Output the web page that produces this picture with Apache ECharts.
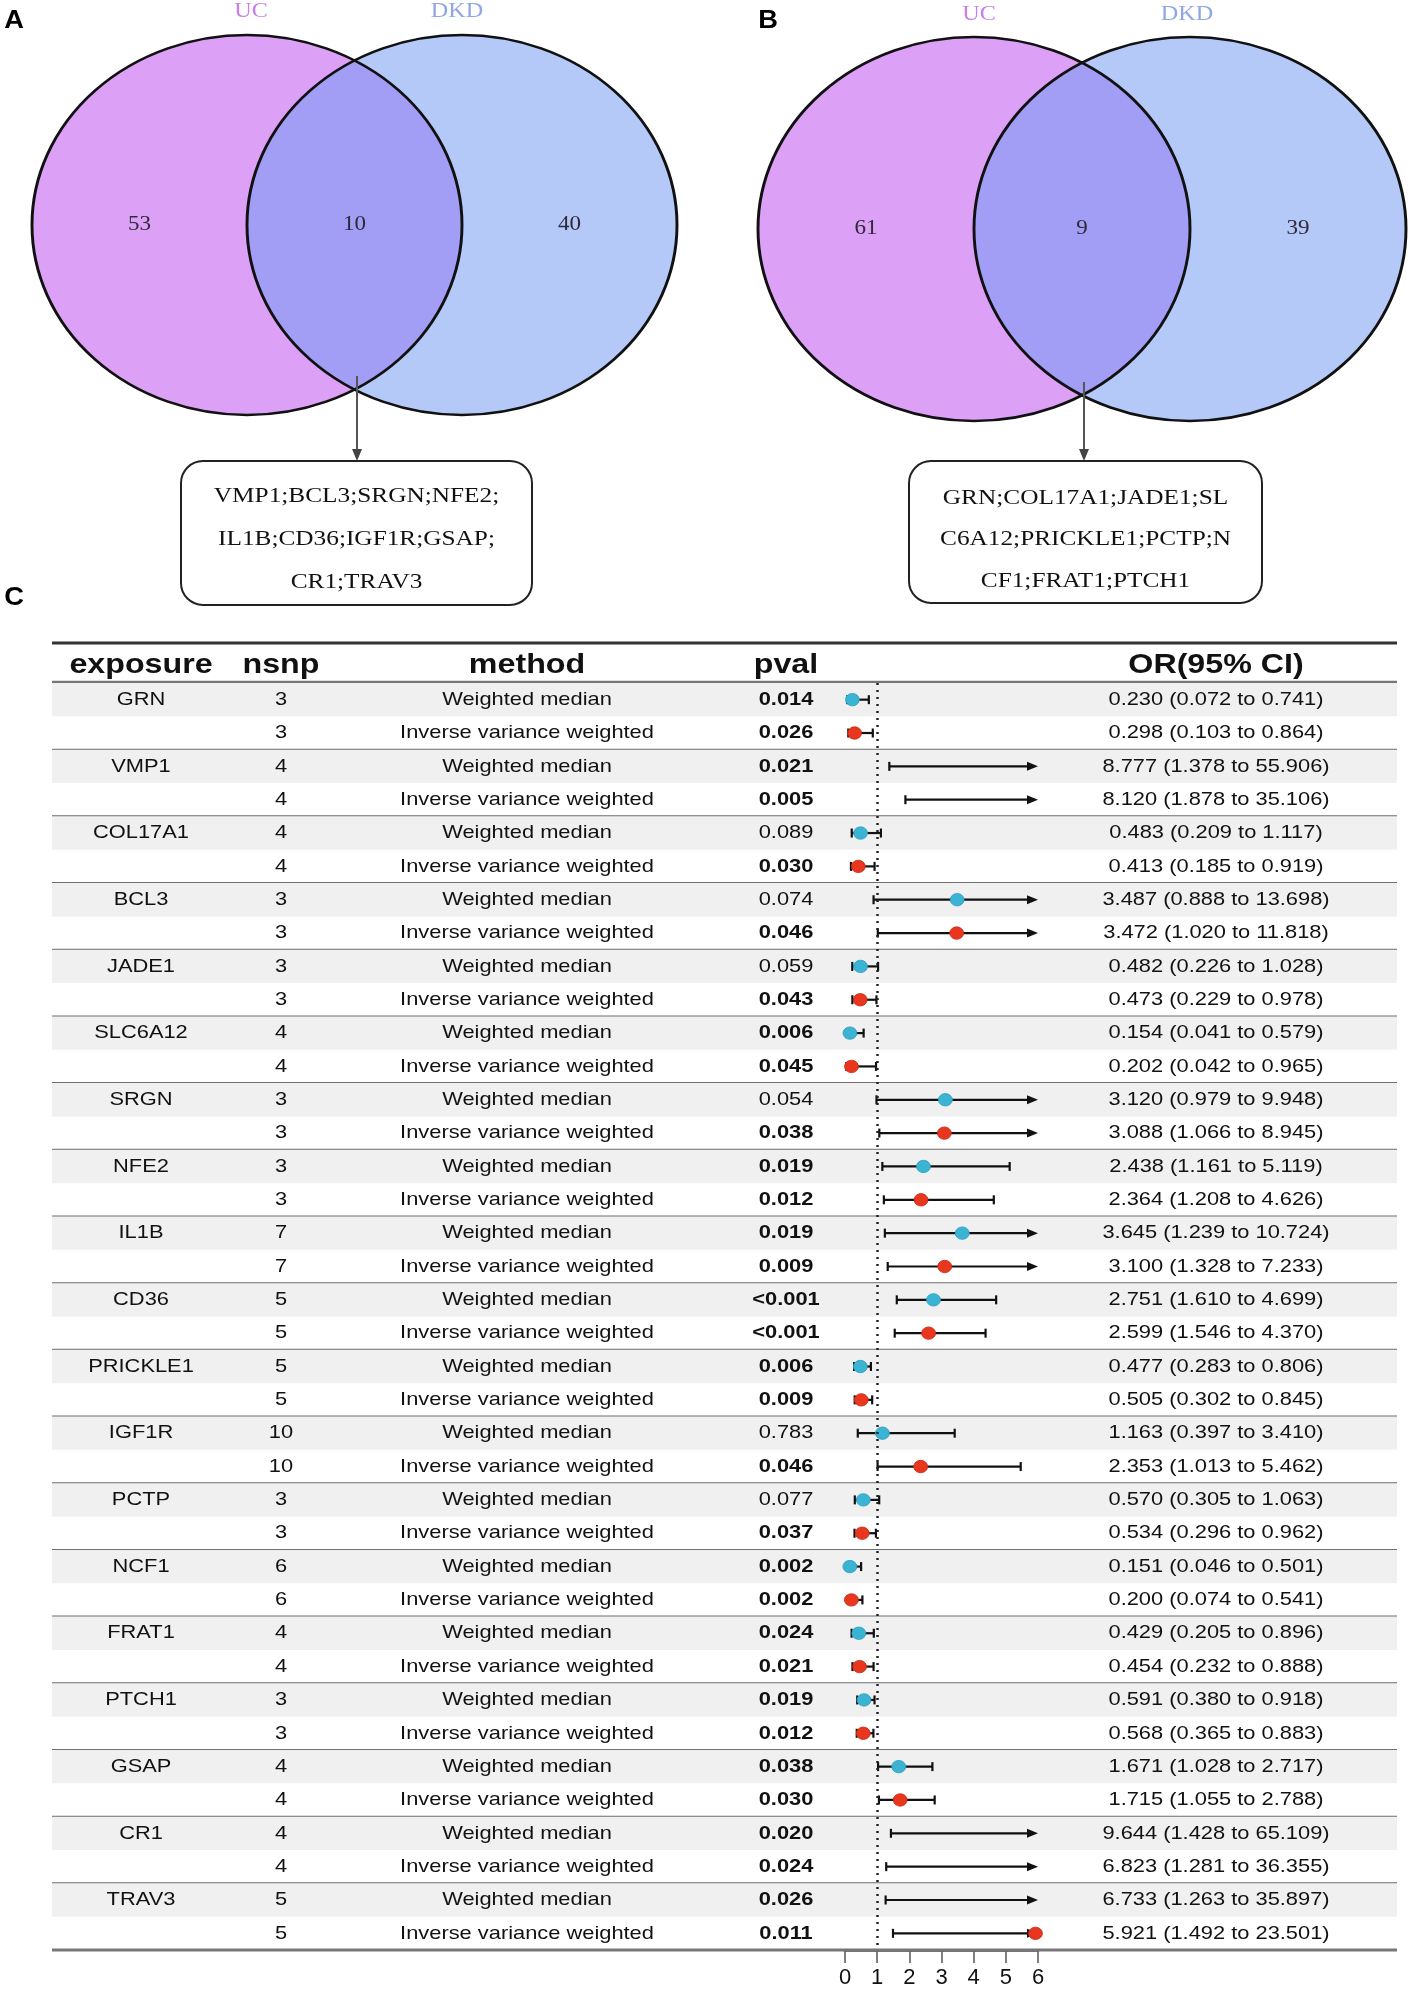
<!DOCTYPE html>
<html><head><meta charset="utf-8">
<script src="https://cdn.jsdelivr.net/npm/echarts@6/dist/echarts.min.js"></script>
<style>html,body{margin:0;padding:0;background:#fff}#c{width:1417px;height:1994px}</style>
</head><body><div id="c"></div>
<script>
// ---------- data ----------
const vennSets = ['UC', 'DKD'];
const vennA = [53, 10, 40];
const vennB = [61, 9, 39];
const sharedA = ['VMP1;BCL3;SRGN;NFE2;', 'IL1B;CD36;IGF1R;GSAP;', 'CR1;TRAV3'];
const sharedB = ['GRN;COL17A1;JADE1;SL', 'C6A12;PRICKLE1;PCTP;N', 'CF1;FRAT1;PTCH1'];

const headers = ['exposure', 'nsnp', 'method', 'pval', 'OR(95% CI)'];
const genes = ['GRN','VMP1','COL17A1','BCL3','JADE1','SLC6A12','SRGN','NFE2','IL1B','CD36','PRICKLE1','IGF1R','PCTP','NCF1','FRAT1','PTCH1','GSAP','CR1','TRAV3'];
const nsnp = [3,4,4,3,3,4,3,3,7,5,5,10,3,6,4,3,4,4,5];
const methods = ['Weighted median', 'Inverse variance weighted'];
const pvalWM  = ['0.014','0.021','0.089','0.074','0.059','0.006','0.054','0.019','0.019','<0.001','0.006','0.783','0.077','0.002','0.024','0.019','0.038','0.020','0.026'];
const pvalIVW = ['0.026','0.005','0.030','0.046','0.043','0.045','0.038','0.012','0.009','<0.001','0.009','0.046','0.037','0.002','0.021','0.012','0.030','0.024','0.011'];
const orWM  = [0.230,8.777,0.483,3.487,0.482,0.154,3.120,2.438,3.645,2.751,0.477,1.163,0.570,0.151,0.429,0.591,1.671,9.644,6.733];
const loWM  = [0.072,1.378,0.209,0.888,0.226,0.041,0.979,1.161,1.239,1.610,0.283,0.397,0.305,0.046,0.205,0.380,1.028,1.428,1.263];
const hiWM  = [0.741,55.906,1.117,13.698,1.028,0.579,9.948,5.119,10.724,4.699,0.806,3.410,1.063,0.501,0.896,0.918,2.717,65.109,35.897];
const orIVW = [0.298,8.120,0.413,3.472,0.473,0.202,3.088,2.364,3.100,2.599,0.505,2.353,0.534,0.200,0.454,0.568,1.715,6.823,5.921];
const loIVW = [0.103,1.878,0.185,1.020,0.229,0.042,1.066,1.208,1.328,1.546,0.302,1.013,0.296,0.074,0.232,0.365,1.055,1.281,1.492];
const hiIVW = [0.864,35.106,0.919,11.818,0.978,0.965,8.945,4.626,7.233,4.370,0.845,5.462,0.962,0.541,0.888,0.883,2.788,36.355,23.501];
const xTicks = [0, 1, 2, 3, 4, 5, 6];

// ---------- build rows ----------
const rows = [];
genes.forEach((g, k) => {
  rows.push({gene: g, n: nsnp[k], m: 0, p: pvalWM[k], or: orWM[k], lo: loWM[k], hi: hiWM[k]});
  rows.push({gene: '', n: nsnp[k], m: 1, p: pvalIVW[k], or: orIVW[k], lo: loIVW[k], hi: hiIVW[k]});
});
const X_MIN = xTicks[0], X_MAX = xTicks[xTicks.length - 1];
const SX = 1.15;
const SANS = '"Liberation Sans", Arial, sans-serif';
const SERIF = '"Liberation Serif", "Times New Roman", serif';
const TL = 52, TR = 1397;
const COL = {exp: 141, n: 281, meth: 527, p: 786, or: 1216};
const pIsSig = p => p.startsWith('<') || parseFloat(p) < 0.05;
const fmt = v => v.toFixed(3);

function txt(x, y, text, size, weight, family, fill, sx) {
  return {
    type: 'text', x: x, y: y, scaleX: sx,
    style: {text: text, fontSize: size, fontWeight: weight, fontFamily: family, fill: fill,
      textAlign: 'center', textVerticalAlign: 'middle', align: 'center', verticalAlign: 'middle'}
  };
}

// ---------- Venn graphics ----------
function venn(c1x, c2x, cy, rx, ry, counts, shared, labY, labX1, labX2, arrowX, arrowY0, box, lines) {
  const els = [];
  const ell = (cx, fill, stroke) => ({
    type: 'circle', x: cx, y: cy, scaleX: rx / ry,
    shape: {cx: 0, cy: 0, r: ry},
    style: {fill: fill, stroke: stroke, lineWidth: stroke ? 2.6 : 0, strokeNoScale: true}
  });
  els.push(ell(c1x, '#dca1f7', null));
  els.push(ell(c2x, '#b5c9f8', null));
  const d = c2x - c1x;
  const t0 = Math.acos(d / 2 / rx);
  const pts = [];
  const N = 80;
  for (let i = 0; i <= N; i++) { const t = -t0 + 2 * t0 * i / N; pts.push([c1x + rx * Math.cos(t), cy + ry * Math.sin(t)]); }
  for (let i = 0; i <= N; i++) { const t = Math.PI - t0 + 2 * t0 * i / N; pts.push([c2x + rx * Math.cos(t), cy + ry * Math.sin(t)]); }
  els.push({type: 'polygon', shape: {points: pts}, style: {fill: '#a29df5'}});
  els.push(ell(c1x, 'none', '#111'));
  els.push(ell(c2x, 'none', '#111'));
  els.push(txt(labX1, labY, vennSets[0], 21, 'normal', SERIF, '#c77ee9', SX));
  els.push(txt(labX2, labY, vennSets[1], 21, 'normal', SERIF, '#8ea6e6', SX));
  const mid = (c1x + c2x) / 2;
  els.push(txt((c1x - rx + mid - (rx - d / 2)) / 2, cy, String(counts[0]), 20, 'normal', SERIF, '#2e2838', SX));
  els.push(txt(mid, cy, String(counts[1]), 20, 'normal', SERIF, '#2e2838', SX));
  els.push(txt((c2x + rx + mid + (rx - d / 2)) / 2, cy, String(counts[2]), 20, 'normal', SERIF, '#2e2838', SX));
  els.push({type: 'line', shape: {x1: arrowX, y1: arrowY0, x2: arrowX, y2: box[1] - 8}, style: {stroke: '#555', lineWidth: 2}});
  els.push({type: 'polygon', shape: {points: [[arrowX - 5, box[1] - 12], [arrowX + 5, box[1] - 12], [arrowX, box[1]]]}, style: {fill: '#444'}});
  els.push({type: 'rect', shape: {x: box[0], y: box[1], width: box[2] - box[0], height: box[3] - box[1], r: 22},
    style: {fill: '#fff', stroke: '#222', lineWidth: 2}});
  shared.forEach((s, i) => els.push(txt((box[0] + box[2]) / 2, lines[i], s, 22, 'normal', SERIF, '#111', SX)));
  return els;
}

const graphics = [];
graphics.push(...venn(247, 462, 225, 215, 190, vennA, sharedA, 11, 251, 457, 357, 376, [181, 461, 532, 605], [496, 539, 582]));
graphics.push(...venn(974, 1190, 229, 216, 192, vennB, sharedB, 14, 979, 1187, 1084, 382, [909, 461, 1262, 603], [498, 539, 581]));
graphics.push(txt(14, 21, 'A', 26, 'bold', SANS, '#000', 1.05));
graphics.push(txt(768, 21, 'B', 26, 'bold', SANS, '#000', 1.05));
graphics.push(txt(14, 598, 'C', 26, 'bold', SANS, '#000', 1.05));
graphics.push({type: 'line', shape: {x1: TL, y1: 643, x2: TR, y2: 643}, style: {stroke: '#333', lineWidth: 3}});
const hx = [COL.exp, COL.n, COL.meth, COL.p, COL.or];
headers.forEach((h, i) => graphics.push(txt(hx[i], 665, h, 28, 'bold', SANS, '#111', SX)));
graphics.push({type: 'line', shape: {x1: TL, y1: 682, x2: TR, y2: 682}, style: {stroke: '#777', lineWidth: 2.5}});

// ---------- chart ----------
const chart = echarts.init(document.getElementById('c'), null, {renderer: 'canvas'});
chart.setOption({
  animation: false,
  backgroundColor: '#fff',
  grid: {left: 845, right: 1417 - 1038, top: 683, bottom: 44, containLabel: false},
  xAxis: {
    type: 'value', min: X_MIN, max: X_MAX, interval: 1,
    axisLine: {show: true, lineStyle: {color: '#777', width: 3}},
    axisTick: {show: true, length: 13, lineStyle: {color: '#555', width: 1.5}},
    axisLabel: {fontSize: 22, color: '#111', margin: 17, fontFamily: SANS},
    splitLine: {show: false}
  },
  yAxis: {type: 'category', inverse: true, show: false, data: rows.map((r, i) => i)},
  graphic: graphics,
  series: [
    {
      type: 'custom', z: 1, clip: false, silent: true,
      data: rows.map((r, i) => [0, i]),
      renderItem: function (params, api) {
        const i = api.value(1);
        const r = rows[i];
        const yc = api.coord([0, i])[1];
        const h = api.size([0, 1])[1];
        const ch = [];
        if (r.m === 0) ch.push({type: 'rect', shape: {x: TL, y: yc - h / 2, width: TR - TL, height: h}, style: {fill: '#f0f0f1'}});
        ch.push(txt(COL.exp, yc, r.gene, 19, 'normal', SANS, '#111', SX));
        ch.push(txt(COL.n, yc, String(r.n), 19, 'normal', SANS, '#111', SX));
        ch.push(txt(COL.meth, yc, methods[r.m], 19, 'normal', SANS, '#111', SX));
        ch.push(txt(COL.p, yc, r.p, 19, pIsSig(r.p) ? 'bold' : 'normal', SANS, '#111', SX));
        ch.push(txt(COL.or, yc, fmt(r.or) + ' (' + fmt(r.lo) + ' to ' + fmt(r.hi) + ')', 19, 'normal', SANS, '#111', SX));
        if (r.m === 1 && i < rows.length - 1) {
          ch.push({type: 'line', shape: {x1: TL, y1: yc + h / 2, x2: TR, y2: yc + h / 2}, style: {stroke: '#6e6e6e', lineWidth: 2}});
        }
        if (i === rows.length - 1) {
          ch.push({type: 'line', shape: {x1: TL, y1: yc + h / 2, x2: TR, y2: yc + h / 2}, style: {stroke: '#777', lineWidth: 3}});
        }
        return {type: 'group', children: ch};
      }
    },
    {
      type: 'custom', z: 3, clip: false, silent: true,
      data: rows.map((r, i) => [r.or, i, r.lo, r.hi, r.m]),
      renderItem: function (params, api) {
        const est = api.value(0), i = api.value(1), lo = api.value(2), hi = api.value(3), m = api.value(4);
        const yc = api.coord([0, i])[1];
        const xLo = api.coord([lo, i])[0];
        const over = hi > X_MAX;
        const xHi = api.coord([Math.min(hi, X_MAX), i])[0];
        const ch = [];
        const ls = {stroke: '#111', lineWidth: 2.2};
        ch.push({type: 'line', shape: {x1: xLo, y1: yc, x2: over ? xHi - 6 : xHi, y2: yc}, style: ls});
        ch.push({type: 'line', shape: {x1: xLo, y1: yc - 4.5, x2: xLo, y2: yc + 4.5}, style: ls});
        if (over) {
          ch.push({type: 'polygon', shape: {points: [[xHi, yc], [xHi - 11, yc - 4.5], [xHi - 11, yc + 4.5]]}, style: {fill: '#111'}});
        } else {
          ch.push({type: 'line', shape: {x1: xHi, y1: yc - 4.5, x2: xHi, y2: yc + 4.5}, style: ls});
        }
        if (est <= X_MAX) {
          const xe = api.coord([est, i])[0];
          ch.push({type: 'circle', x: xe, y: yc, scaleX: 1.12, shape: {cx: 0, cy: 0, r: 6.2},
            style: {fill: m === 0 ? '#3bb4d4' : '#e8361f', stroke: m === 0 ? '#2a9fc0' : '#c82a18', lineWidth: 0.8}});
        }
        return {type: 'group', children: ch};
      },
      markLine: {
        silent: true, symbol: 'none', label: {show: false},
        lineStyle: {type: [2, 5], color: '#222', width: 2.5},
        data: [{xAxis: 1}]
      }
    }
  ]
});
</script>
</body></html>
